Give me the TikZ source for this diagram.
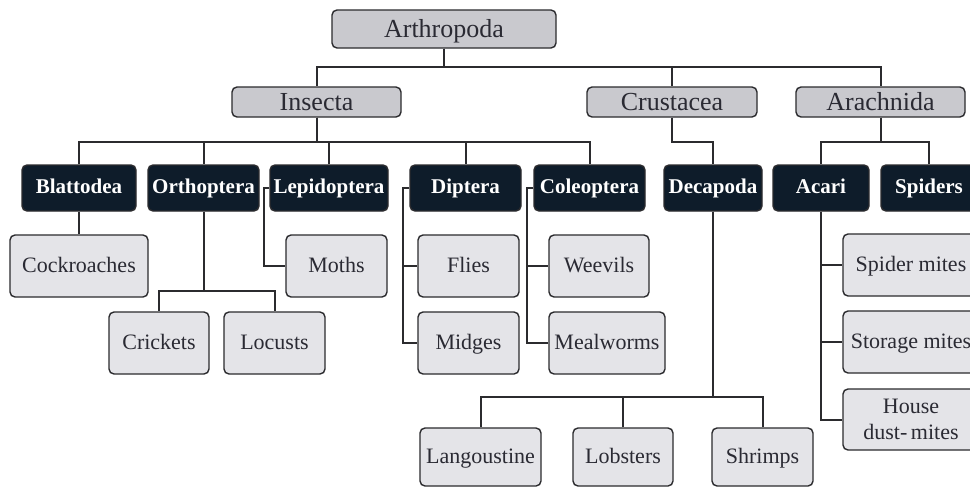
\documentclass[tikz,border=0pt]{standalone}
\usepackage{fontspec}
\setmainfont{Liberation Serif}
\definecolor{topfill}{HTML}{C9C9CE}
\definecolor{leaffill}{HTML}{E4E4E8}
\definecolor{darkfill}{HTML}{0E1C2A}
\definecolor{edge}{HTML}{2B2B2E}
\definecolor{txt}{HTML}{2A2A33}
\begin{document}
\begin{tikzpicture}[x=1pt,y=-1pt,
  box/.style={draw=edge,line width=1.4pt,rounded corners=5pt,inner sep=0pt,align=center},
  topbox/.style={box,fill=topfill,text=txt,font=\fontsize{26}{28}\selectfont,text height=17pt,text depth=1pt},
  darkbox/.style={box,fill=darkfill,text=white,minimum height=46pt,font=\bfseries\fontsize{21}{22}\selectfont,text height=14pt,text depth=2.5pt},
  leafbox/.style={box,fill=leaffill,text=txt,minimum height=62pt,font=\fontsize{22}{24}\selectfont,text height=14.5pt,text depth=1.5pt},
  conn/.style={draw=edge,line width=2pt}]
\useasboundingbox (0,0) rectangle (970,488);
\fill[white] (0,0) rectangle (970,488);
% level 0/1
\node[topbox,minimum width=224pt,minimum height=38pt] (arth) at (444,29) {Arthropoda};
\node[topbox,minimum width=169pt,minimum height=30pt] (ins) at (316.5,102) {Insecta};
\node[topbox,minimum width=170pt,minimum height=30pt] (crus) at (672,102) {Crustacea};
\node[topbox,minimum width=169pt,minimum height=30pt] (arach) at (880.5,102) {Arachnida};
% level 2
\node[darkbox,minimum width=114pt] (blat) at (79,188) {Blattodea};
\node[darkbox,minimum width=111pt] (orth) at (203.5,188) {Orthoptera};
\node[darkbox,minimum width=118pt] (lep) at (329,188) {Lepidoptera};
\node[darkbox,minimum width=111pt] (dip) at (465.5,188) {Diptera};
\node[darkbox,minimum width=111pt] (col) at (589.5,188) {Coleoptera};
\node[darkbox,minimum width=98pt] (deca) at (713,188) {Decapoda};
\node[darkbox,minimum width=96pt] (acari) at (821,188) {Acari};
\node[darkbox,minimum width=96pt] (spid) at (929,188) {Spiders};
% leaves
\node[leafbox,minimum width=138pt] (cock) at (79,266) {Cockroaches};
\node[leafbox,minimum width=101pt] (moth) at (336.5,266) {Moths};
\node[leafbox,minimum width=101pt] (fly) at (468.5,266) {Flies};
\node[leafbox,minimum width=100pt] (weev) at (599,266) {Weevils};
\node[leafbox,minimum width=136pt] (spm) at (911,265) {Spider mites};
\node[leafbox,minimum width=100pt] (crick) at (159,343) {Crickets};
\node[leafbox,minimum width=101pt] (loc) at (274.5,343) {Locusts};
\node[leafbox,minimum width=101pt] (midg) at (468.5,343) {Midges};
\node[leafbox,minimum width=116pt] (meal) at (607,343) {Mealworms};
\node[leafbox,minimum width=136pt] (stm) at (911,342) {Storage mites};
\node[box,fill=leaffill,text=txt,minimum width=136pt,minimum height=61pt,font=\fontsize{22}{26}\selectfont] (hdm) at (911,419.5) {House\\dust-\,mites};
\node[leafbox,minimum width=121pt,minimum height=58pt] (lang) at (480.5,457) {Langoustine};
\node[leafbox,minimum width=100pt,minimum height=58pt] (lob) at (623,457) {Lobsters};
\node[leafbox,minimum width=101pt,minimum height=58pt] (shr) at (762.5,457) {Shrimps};
% connectors
\draw[conn] (arth.south) -- ++(0,18) -| (ins.north);
\draw[conn] (arth.south) -- ++(0,18) -| (crus.north);
\draw[conn] (arth.south) -- ++(0,18) -| (arach.north);
\foreach \n in {blat,orth,lep,dip,col}
  \draw[conn] (ins.south) -- ++(0,24) -| (\n.north);
\draw[conn] (crus.south) -- ++(0,24) -| (deca.north);
\draw[conn] (arach.south) -- ++(0,24) -| (acari.north);
\draw[conn] (arach.south) -- ++(0,24) -| (spid.north);
\draw[conn] (blat.south) -- (cock.north);
\draw[conn] (orth.south) -- ++(0,79) -| (crick.north);
\draw[conn] (orth.south) -- ++(0,79) -| (loc.north);
\draw[conn] (lep.west) -- ++(-5,0) |- (moth.west);
\draw[conn] (dip.west) -- ++(-6,0) |- (fly.west);
\draw[conn] (dip.west) -- ++(-6,0) |- (midg.west);
\draw[conn] (col.west) -- ++(-6,0) |- (weev.west);
\draw[conn] (col.west) -- ++(-6,0) |- (meal.west);
\draw[conn] (deca.south) -- ++(0,185) -| (lang.north);
\draw[conn] (deca.south) -- ++(0,185) -| (lob.north);
\draw[conn] (deca.south) -- ++(0,185) -| (shr.north);
\draw[conn] (acari.south) |- (spm.west);
\draw[conn] (acari.south) |- (stm.west);
\draw[conn] (acari.south) |- (hdm.west);
\end{tikzpicture}
\end{document}
